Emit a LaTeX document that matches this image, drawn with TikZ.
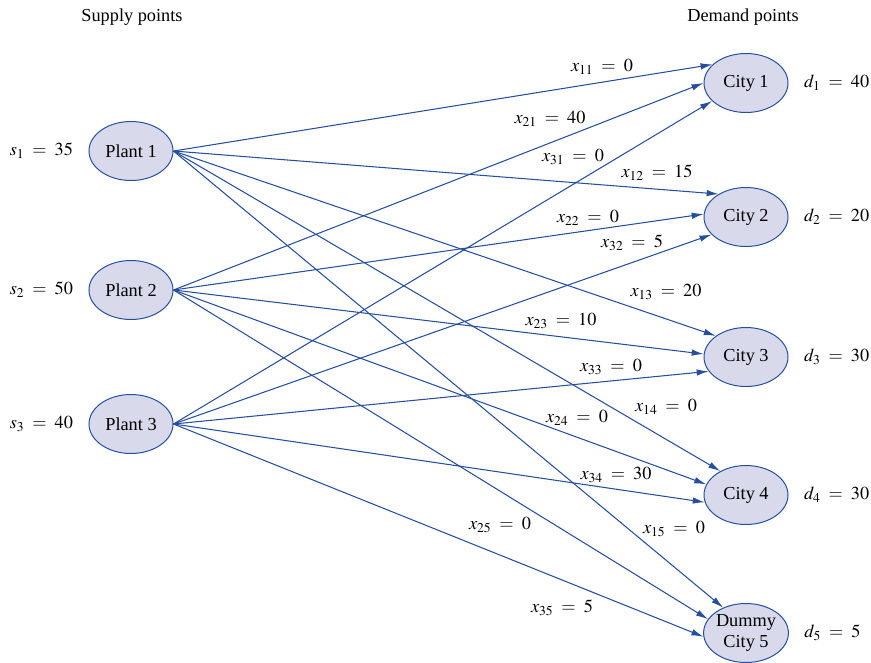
\documentclass[tikz,border=0pt]{standalone}
\usepackage{mathptmx}
\usepackage{fontspec}
\setmainfont{Liberation Serif}
\usepackage{tikz}
\usetikzlibrary{arrows.meta,positioning,shapes.geometric}
\definecolor{netblue}{RGB}{38,78,158}
\definecolor{netfill}{RGB}{216,218,236}

\begin{document}
\begin{tikzpicture}[x=1pt, y=-1pt, >={Latex[length=12pt,width=6.5pt]},
  every node/.style={align=center, font=\fontsize{18.3}{21}\selectfont},
  site/.style={draw=netblue, fill=netfill, ellipse, line width=1pt, minimum width=84pt, minimum height=59pt, inner sep=0pt},
  route/.style={->, draw=netblue, line width=1.05pt},
  flow/.style={inner sep=1pt}]
  \useasboundingbox (0,0) rectangle (871,662);
  \node (suphead) at (132,17) {Supply points};
  \node (demhead) at (743,17) {Demand points};
  % supply side
  \node[site] (plant1) at (131,151) {Plant 1};
  \node[site] (plant2) at (131,290) {Plant 2};
  \node[site] (plant3) at (131,424) {Plant 3};
  \node[left=12pt of plant1] (s1) {$s_1 \;=\; 35$};
  \node[left=12pt of plant2] (s2) {$s_2 \;=\; 50$};
  \node[left=12pt of plant3] (s3) {$s_3 \;=\; 40$};
  % demand side
  \node[site] (city1) at (746,83) {City 1};
  \node[site] (city2) at (746,217) {City 2};
  \node[site] (city3) at (746,357) {City 3};
  \node[site] (city4) at (746,495) {City 4};
  \node[site] (city5) at (746,633) {Dummy\\City 5};
  \node[right=12pt of city1] (d1) {$d_1 \;=\; 40$};
  \node[right=12pt of city2] (d2) {$d_2 \;=\; 20$};
  \node[right=12pt of city3] (d3) {$d_3 \;=\; 30$};
  \node[right=12pt of city4] (d4) {$d_4 \;=\; 30$};
  \node[right=12pt of city5] (d5) {$d_5 \;=\; 5$};
  % shipments
  \draw[route] (plant1.east) -- (city1.151);
  \draw[route] (plant1.east) -- (city2.140);
  \draw[route] (plant1.east) -- (city3.145);
  \draw[route] (plant1.east) -- (city4.137);
  \draw[route] (plant1.east) -- (city5.132);
  \draw[route] (plant2.east) -- (city1.180);
  \draw[route] (plant2.east) -- (city2.176);
  \draw[route] (plant2.east) -- (city3.176);
  \draw[route] (plant2.east) -- (city4.165);
  \draw[route] (plant2.east) -- (city5.160);
  \draw[route] (plant3.east) -- (city1.208);
  \draw[route] (plant3.east) -- (city2.207);
  \draw[route] (plant3.east) -- (city3.201);
  \draw[route] (plant3.east) -- (city4.190);
  \draw[route] (plant3.east) -- (city5.185);
  % flow values
  \node[flow] (x11) at (602,67) {$x_{11} \;=\; 0$};
  \node[flow] (x21) at (550,119) {$x_{21} \;=\; 40$};
  \node[flow] (x31) at (573,157) {$x_{31} \;=\; 0$};
  \node[flow] (x12) at (657,173) {$x_{12} \;=\; 15$};
  \node[flow] (x22) at (588,218) {$x_{22} \;=\; 0$};
  \node[flow] (x32) at (632,243) {$x_{32} \;=\; 5$};
  \node[flow] (x13) at (666,292) {$x_{13} \;=\; 20$};
  \node[flow] (x23) at (561,321) {$x_{23} \;=\; 10$};
  \node[flow] (x33) at (611,367) {$x_{33} \;=\; 0$};
  \node[flow] (x14) at (666,407) {$x_{14} \;=\; 0$};
  \node[flow] (x24) at (577,418) {$x_{24} \;=\; 0$};
  \node[flow] (x34) at (616,475) {$x_{34} \;=\; 30$};
  \node[flow] (x25) at (500,525) {$x_{25} \;=\; 0$};
  \node[flow] (x15) at (674,529) {$x_{15} \;=\; 0$};
  \node[flow] (x35) at (562,608) {$x_{35} \;=\; 5$};
\end{tikzpicture}
\end{document}
